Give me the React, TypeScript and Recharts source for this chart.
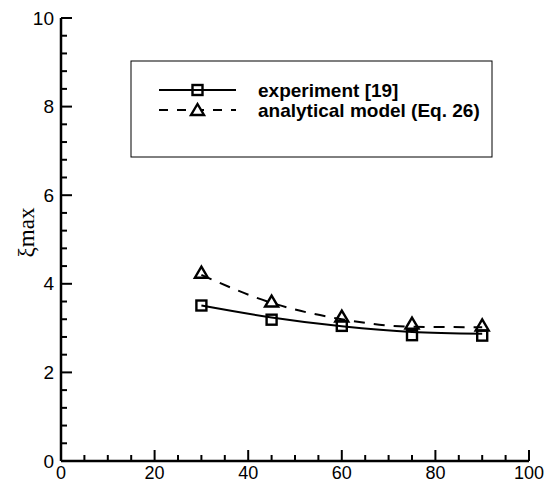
import { ComposedChart, Line, XAxis, YAxis } from 'recharts'

// contact angle (deg) at which the markers sit
const angles = [30, 45, 60, 75, 90]
// marker values
const experiment = [3.51, 3.19, 3.05, 2.84, 2.83]
const model = [4.25, 3.6, 3.26, 3.1, 3.06]
// smoothed curves drawn through the markers
const experimentFit = [3.51, 3.24, 3.04, 2.91, 2.87]
const modelFit = [4.2, 3.57, 3.2, 3.03, 3.02]

const xLabels = [0, 20, 40, 60, 80, 100]
const yLabels = [0, 2, 4, 6, 8, 10]
const seriesNames = ['experiment [19]', 'analytical model (Eq. 26)']
const yTitle = 'ξmax'

const xTicks = Array.from({ length: 21 }, (_, i) => i * 5)
const yTicks = Array.from({ length: 26 }, (_, i) => Number((i * 0.4).toFixed(1)))

const data = angles.map((a, i) => ({
  angle: a,
  experiment: experiment[i],
  model: model[i],
  experimentFit: experimentFit[i],
  modelFit: modelFit[i],
}))

const FONT = '"Liberation Sans", Arial, sans-serif'

function XTick({ x, y, payload }: any) {
  const v = payload.value
  const major = xLabels.includes(v)
  return (
    <g>
      <line x1={x} y1={y} x2={x} y2={y - (major ? 11 : 6)} stroke="#000" strokeWidth={2} />
      {major && (
        <text x={x} y={y + 18} textAnchor="middle" fontSize={18} fontFamily={FONT} fill="#000">
          {v}
        </text>
      )}
    </g>
  )
}

function YTick({ x, y, payload }: any) {
  const v = payload.value
  const major = yLabels.some(l => Math.abs(l - v) < 1e-6)
  return (
    <g>
      <line x1={x} y1={y} x2={x + (major ? 11 : 6)} y2={y} stroke="#000" strokeWidth={2} />
      {major && (
        <text x={x - 7} y={y} textAnchor="end" dominantBaseline="central" fontSize={19} fontFamily={FONT} fill="#000">
          {Math.round(v)}
        </text>
      )}
    </g>
  )
}

function YTitle({ viewBox }: any) {
  const cx = viewBox.x + viewBox.width - 35
  const cy = viewBox.y + viewBox.height / 2 - 7
  return (
    <text
      x={cx}
      y={cy}
      transform={`rotate(-90 ${cx} ${cy})`}
      textAnchor="middle"
      dominantBaseline="central"
      fontSize={23}
      fontFamily='"Liberation Serif", "Times New Roman", serif'
      fill="#000"
    >
      {yTitle}
    </text>
  )
}

function Square({ cx, cy }: { cx: number; cy: number }) {
  return <rect x={cx - 5} y={cy - 5} width={10} height={10} fill="none" stroke="#000" strokeWidth={2.4} />
}

function Triangle({ cx, cy, fill = 'none' }: { cx: number; cy: number; fill?: string }) {
  return (
    <path
      d={`M${cx},${cy - 6} L${cx + 6.5},${cy + 5} L${cx - 6.5},${cy + 5} Z`}
      fill={fill}
      stroke="#000"
      strokeWidth={2.4}
      strokeLinejoin="miter"
    />
  )
}

const squareDot = (p: any) => <g key={p.key}><Square cx={p.cx} cy={p.cy} /></g>
const triangleDot = (p: any) => <g key={p.key}><Triangle cx={p.cx} cy={p.cy} /></g>

function LegendBox() {
  return (
    <svg width={363} height={98} style={{ position: 'absolute', left: 130, top: 60 }}>
      <rect x={1} y={1} width={361} height={96} fill="#fff" stroke="#000" strokeWidth={1} />
      <line x1={29} y1={30} x2={106} y2={30} stroke="#000" strokeWidth={2} />
      <Square cx={67.5} cy={30} />
      <line x1={29} y1={50} x2={106} y2={50} stroke="#000" strokeWidth={2} strokeDasharray="9 9" />
      <Triangle cx={67.5} cy={50} fill="#fff" />
      <text x={128} y={30} dominantBaseline="central" fontSize={19} fontWeight="bold" fontFamily={FONT} fill="#000">
        {seriesNames[0]}
      </text>
      <text x={128} y={50} dominantBaseline="central" fontSize={19} fontWeight="bold" fontFamily={FONT} fill="#000">
        {seriesNames[1]}
      </text>
    </svg>
  )
}

export default function App() {
  return (
    <div style={{ position: 'absolute', left: 0, top: 0, width: 558, height: 482, background: '#fff' }}>
      <ComposedChart width={558} height={482} data={data} margin={{ top: 18, right: 29, bottom: 20, left: 60 }}>
        <XAxis
          type="number"
          dataKey="angle"
          domain={[0, 100]}
          ticks={xTicks}
          interval={0}
          height={1}
          tickSize={0}
          tickMargin={0}
          tickLine={false}
          tick={<XTick />}
          axisLine={{ stroke: '#000', strokeWidth: 2.5 }}
        />
        <YAxis
          type="number"
          domain={[0, 10]}
          ticks={yTicks}
          interval={0}
          width={1}
          tickSize={0}
          tickMargin={0}
          tickLine={false}
          tick={<YTick />}
          axisLine={{ stroke: '#000', strokeWidth: 2.5 }}
          label={<YTitle />}
        />
        <Line
          type="monotone"
          dataKey="experimentFit"
          stroke="#000"
          strokeWidth={2}
          dot={false}
          activeDot={false}
          isAnimationActive={false}
        />
        <Line
          type="monotone"
          dataKey="modelFit"
          stroke="#000"
          strokeWidth={2}
          strokeDasharray="11 9"
          dot={false}
          activeDot={false}
          isAnimationActive={false}
        />
        <Line
          dataKey="experiment"
          stroke="none"
          dot={squareDot}
          activeDot={false}
          isAnimationActive={false}
        />
        <Line
          dataKey="model"
          stroke="none"
          dot={triangleDot}
          activeDot={false}
          isAnimationActive={false}
        />
      </ComposedChart>
      <LegendBox />
    </div>
  )
}
